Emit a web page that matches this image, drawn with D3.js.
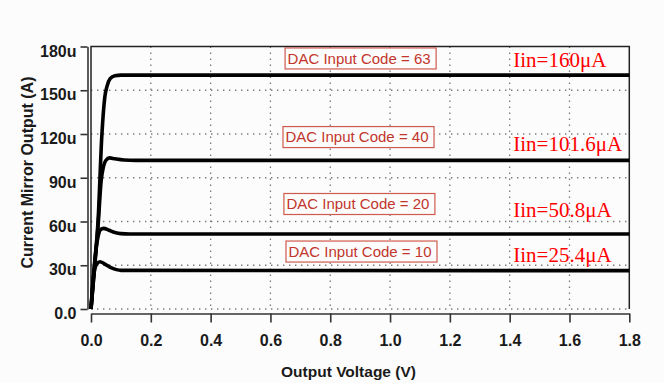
<!DOCTYPE html>
<html>
<head>
<meta charset="utf-8">
<script src="https://cdn.jsdelivr.net/npm/d3@7"></script>
<style>
  body { margin: 0; background: #fcfcfc; }
  svg { display: block; }
</style>
</head>
<body>
<div id="chart"></div>
<script>
// series: output voltage (V) vs current mirror output (uA)
const codes = [63, 40, 20, 10];
const iinLabels = ["Iin=160\u03bcA", "Iin=101.6\u03bcA", "Iin=50.8\u03bcA", "Iin=25.4\u03bcA"];

const v63 = [0, 0.012, 0.024, 0.036, 0.046, 0.054, 0.064, 0.08, 0.1, 1.8];
const i63 = [0, 30, 62, 118, 145, 153, 158, 160, 160.4, 160.4];

const v40 = [0, 0.012, 0.024, 0.034, 0.042, 0.05, 0.062, 0.08, 0.11, 0.15, 1.8];
const i40 = [0, 28, 58, 88, 98, 102, 103.6, 103, 102.2, 101.9, 101.9];

const v20 = [0, 0.008, 0.016, 0.024, 0.032, 0.042, 0.06, 0.08, 0.1, 0.13, 1.8];
const i20 = [0, 22, 40, 50, 54.5, 55.3, 54, 52.5, 51.7, 51.4, 51.4];

const v10 = [0, 0.006, 0.012, 0.02, 0.03, 0.045, 0.065, 0.085, 0.1, 1.8];
const i10 = [0, 18, 27, 31, 32.4, 31, 28.5, 27, 26.5, 26.3, 26.3];

const xTicks = [0, 0.2, 0.4, 0.6, 0.8, 1.0, 1.2, 1.4, 1.6, 1.8];
const yTicks = [0, 30, 60, 90, 120, 150, 180];
const yTickLabels = ["0.0", "30u", "60u", "90u", "120u", "150u", "180u"];

// annotation anchors in data units
const boxV = [0.649, 0.642, 0.645, 0.652];
const boxI = [171.8, 117.9, 72, 39.4];
const iinV = [1.412, 1.412, 1.412, 1.412];
const iinI = [165.7, 108.6, 62.9, 32.4];

const W = 664, H = 383;
const svg = d3.select("#chart").append("svg")
  .attr("width", W).attr("height", H);

const x = d3.scaleLinear().domain([0, 1.8]).range([91, 629.3]);
const y = d3.scaleLinear().domain([0, 180]).range([309, 46.5]);

const series = [
  d3.zip(v63, i63), d3.zip(v40, i40), d3.zip(v20, i20), d3.zip(v10, i10)
];

// grid
const grid = svg.append("g").attr("stroke", "#7a7a7a").attr("stroke-width", 1.3)
  .attr("stroke-dasharray", "1.4,4.6");
grid.selectAll(".gx").data(xTicks.slice(1, -1)).enter().append("line")
  .attr("x1", d => x(d)).attr("x2", d => x(d))
  .attr("y1", y(180)).attr("y2", y(0));
grid.selectAll(".gy").data(yTicks.slice(1, -1)).enter().append("line")
  .attr("x1", x(0)).attr("x2", x(1.8))
  .attr("y1", d => y(d)).attr("y2", d => y(d));
grid.append("line").attr("x1", x(0)).attr("x2", x(1.8))
  .attr("y1", y(0)).attr("y2", y(0));

// plot frame
svg.append("path")
  .attr("d", `M${x(0)},${y(0)}V${y(180)}H${x(1.8)}V${y(0)}`)
  .attr("fill", "none").attr("stroke", "#222").attr("stroke-width", 1.5);

// axes
const xAxis = svg.append("g")
  .attr("transform", "translate(0,313.5)")
  .call(d3.axisBottom(x).tickValues(xTicks).tickFormat(d3.format(".1f"))
    .tickSize(9).tickSizeOuter(0).tickPadding(12));
const yAxis = svg.append("g")
  .attr("transform", "translate(87.5,0)")
  .call(d3.axisLeft(y).tickValues(yTicks).tickFormat((d, i) => yTickLabels[i])
    .tickSize(7).tickSizeOuter(0).tickPadding(4));

[xAxis, yAxis].forEach(g => {
  g.select(".domain").attr("stroke", "#333").attr("stroke-width", 1.6);
  g.selectAll(".tick line").attr("stroke", "#333").attr("stroke-width", 1.6);
  g.selectAll("text").attr("fill", "#1a1a1a")
    .style("font", "bold 16px 'Liberation Sans', Arial, sans-serif");
});
yAxis.selectAll("text").attr("dy", "0.6em");

// curves
const line = d3.line().x(d => x(d[0])).y(d => y(d[1])).curve(d3.curveMonotoneX);
svg.append("g").selectAll("path").data(series).enter().append("path")
  .attr("d", line)
  .attr("fill", "none").attr("stroke", "#000").attr("stroke-width", 3.6)
  .attr("stroke-linejoin", "round");

// DAC code boxes
codes.forEach((c, i) => {
  const g = svg.append("g");
  const t = g.append("text")
    .attr("x", x(boxV[i]) + 2.5).attr("y", y(boxI[i]))
    .attr("dy", "0.35em")
    .attr("fill", "#c2352b")
    .style("font", "15px 'Liberation Sans', Arial, sans-serif")
    .text(`DAC Input Code = ${c}`);
  const b = t.node().getBBox();
  g.insert("rect", "text")
    .attr("x", x(boxV[i])).attr("y", y(boxI[i]) - 10.5)
    .attr("width", b.width + 8).attr("height", 21)
    .attr("fill", "#fcfcfc").attr("stroke", "#cf5a4e").attr("stroke-width", 1.2);
});

// Iin labels
svg.append("g").selectAll("text").data(iinLabels).enter().append("text")
  .attr("x", (d, i) => x(iinV[i])).attr("y", (d, i) => y(iinI[i]))
  .attr("fill", "#ff0000")
  .style("font", "21px 'Liberation Serif', 'Times New Roman', serif")
  .text(d => d);

// axis titles
svg.append("text")
  .attr("x", 348.5).attr("y", 377)
  .attr("text-anchor", "middle").attr("fill", "#1a1a1a")
  .style("font", "bold 15.5px 'Liberation Sans', Arial, sans-serif")
  .text("Output Voltage (V)");
svg.append("text")
  .attr("transform", "translate(33,172.5) rotate(-90)")
  .attr("text-anchor", "middle").attr("fill", "#1a1a1a")
  .style("font", "bold 16px 'Liberation Sans', Arial, sans-serif")
  .text("Current Mirror Output (A)");
</script>
</body>
</html>
